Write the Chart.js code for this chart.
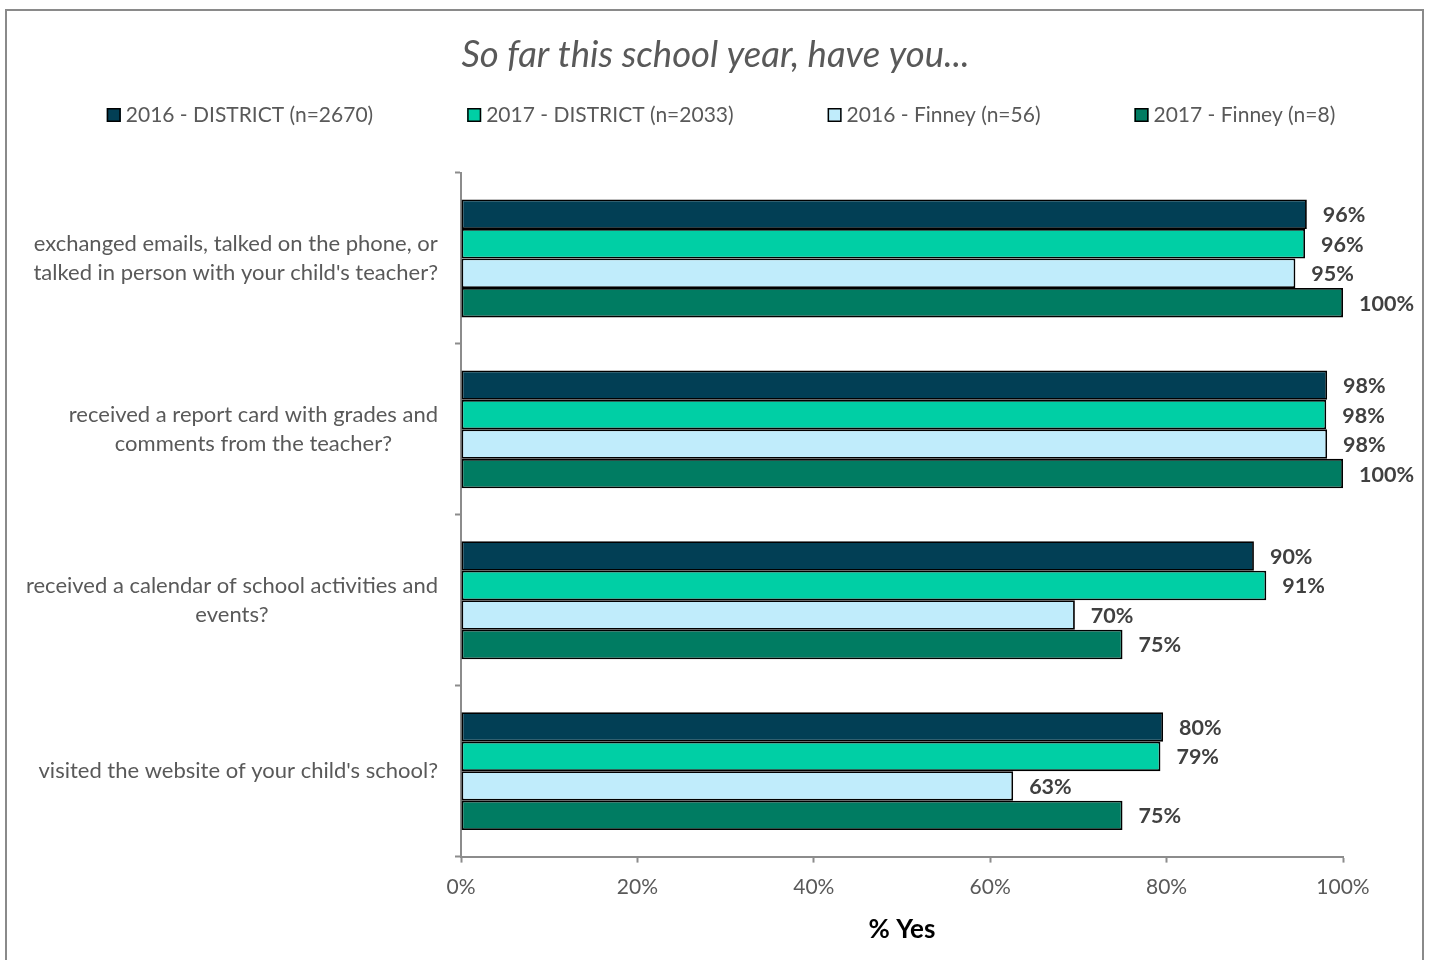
<!DOCTYPE html>
<html>
<head>
<meta charset="utf-8">
<script src="https://cdn.jsdelivr.net/npm/chart.js@4/dist/chart.umd.min.js"></script>
<style>
  html, body { margin: 0; padding: 0; background: #ffffff; }
  #wrap { position: relative; width: 1431px; height: 960px; overflow: hidden; }
  #frame { position: absolute; left: 5px; top: 9px; width: 1419px; height: 960px; border: 2px solid #8a8a8a; pointer-events: none; box-sizing: border-box; }
  canvas { position: absolute; left: 0; top: 0; }
</style>
</head>
<body>
<div id="wrap">
  <canvas id="c" width="1431" height="960"></canvas>
  <div id="frame"></div>
</div>
<script>
const chartTitle = "So far this school year, have you...";
const categories = [
  ["exchanged emails, talked on the phone, or", "talked in person with your child's teacher?"],
  ["received a report card with grades and", "comments from the teacher?"],
  ["received a calendar of school activities and", "events?"],
  "visited the website of your child's school?"
];
const seriesNames = [
  "2016 - DISTRICT (n=2670)",
  "2017 - DISTRICT (n=2033)",
  "2016 - Finney (n=56)",
  "2017 - Finney (n=8)"
];
const district2016 = [95.9, 98.2, 89.9, 79.6];
const district2017 = [95.7, 98.1, 91.3, 79.3];
const finney2016 = [94.6, 98.2, 69.6, 62.6];
const finney2017 = [100, 100, 75, 75];
const seriesColors = ["#023F55", "#00CFA5", "#C0ECFB", "#007C62"];
const xTicks = [0, 20, 40, 60, 80, 100];
const xAxisTitle = "% Yes";

const FONT = "Lato, 'Noto Sans', sans-serif";
const seriesValues = [district2016, district2017, finney2016, finney2017];

const datasets = seriesValues.map((vals, i) => ({
  label: seriesNames[i],
  data: vals,
  backgroundColor: seriesColors[i],
  borderColor: "#000000",
  borderWidth: 1.8,
  borderSkipped: false,
  categoryPercentage: 0.69,
  barPercentage: 1.0
}));

const valueLabels = {
  id: "valueLabels",
  afterDatasetsDraw(chart) {
    const ctx = chart.ctx;
    ctx.save();
    ctx.font = "bold 21.5px " + FONT;
    ctx.fillStyle = "#404040";
    ctx.textAlign = "left";
    ctx.textBaseline = "middle";
    chart.data.datasets.forEach((ds, di) => {
      const meta = chart.getDatasetMeta(di);
      meta.data.forEach((el, i) => {
        ctx.fillText(Math.round(ds.data[i]) + "%", el.x + 16, el.y + 1);
      });
    });
    ctx.restore();
  }
};

// category labels: each label block right-aligned next to the axis, its lines centred within the block
const categoryLabels = {
  id: "categoryLabels",
  afterDraw(chart) {
    const ctx = chart.ctx;
    const y = chart.scales.y;
    ctx.save();
    ctx.font = "22px " + FONT;
    ctx.fillStyle = "#595959";
    ctx.textAlign = "center";
    ctx.textBaseline = "middle";
    const lineH = 29;
    const rightEdge = y.right - 23;
    chart.data.labels.forEach((lab, i) => {
      const lines = Array.isArray(lab) ? lab : [lab];
      const w = Math.max(...lines.map(l => ctx.measureText(l).width));
      const cx = rightEdge - w / 2;
      const cy = y.getPixelForValue(i);
      lines.forEach((l, k) => {
        ctx.fillText(l, cx, cy + (k - (lines.length - 1) / 2) * lineH);
      });
    });
    ctx.restore();
  }
};

const customLegend = {
  id: "customLegend",
  afterDraw(chart) {
    const ctx = chart.ctx;
    ctx.save();
    ctx.font = "21px " + FONT;
    ctx.textBaseline = "middle";
    ctx.textAlign = "left";
    const box = 14, gapText = 5, gapItem = 94;
    const items = chart.data.datasets.map(ds => ({
      text: ds.label, color: ds.backgroundColor,
      w: box + gapText + ctx.measureText(ds.label).width
    }));
    const total = items.reduce((s, it) => s + it.w, 0) + gapItem * (items.length - 1);
    let x = 721 - total / 2;
    const cy = 115;
    items.forEach(it => {
      ctx.fillStyle = it.color;
      ctx.fillRect(x, cy - box / 2, box, box);
      ctx.strokeStyle = "#000000";
      ctx.lineWidth = 1.5;
      ctx.strokeRect(x + 0.75, cy - box / 2 + 0.75, box - 1.5, box - 1.5);
      ctx.fillStyle = "#595959";
      ctx.fillText(it.text, x + box + gapText, cy);
      x += it.w + gapItem;
    });
    ctx.restore();
  }
};

const centerTitle = {
  id: "centerTitle",
  afterLayout(chart) {
    const t = chart.titleBlock;
    if (t) { t.left = 5; t.right = 1426; t.width = t.right - t.left; }
  }
};

new Chart(document.getElementById("c"), {
  type: "bar",
  data: { labels: categories, datasets },
  plugins: [valueLabels, categoryLabels, customLegend, centerTitle],
  options: {
    indexAxis: "y",
    responsive: false,
    animation: false,
    layout: { padding: { left: 0, right: 88, top: 0, bottom: 11 } },
    plugins: {
      legend: { display: false },
      tooltip: { enabled: false },
      title: {
        display: true,
        text: chartTitle,
        color: "#595959",
        font: { family: FONT, size: 36.5, style: "italic", weight: "normal", lineHeight: 1.2 },
        padding: { top: 33, bottom: 96.2 }
      }
    },
    scales: {
      x: {
        type: "linear",
        min: 0, max: 100,
        afterBuildTicks(scale) { scale.ticks = xTicks.map(v => ({ value: v })); },
        ticks: {
          color: "#595959",
          font: { family: FONT, size: 21, lineHeight: 1.2 },
          padding: 12,
          callback: v => v + "%"
        },
        grid: { drawOnChartArea: false, drawTicks: true, tickLength: 6, color: "#8c8c8c", tickWidth: 2 },
        border: { display: true, color: "#8c8c8c", width: 2 },
        title: {
          display: true,
          text: xAxisTitle,
          color: "#000000",
          font: { family: FONT, size: 26, weight: "bold", lineHeight: 1.2 },
          padding: { top: 2, bottom: 4 }
        }
      },
      y: {
        type: "category",
        afterFit(scale) { scale.width = 461; },
        ticks: { display: false },
        grid: { drawOnChartArea: false, drawTicks: true, tickLength: 6, color: "#8c8c8c", tickWidth: 2, offset: true },
        border: { display: true, color: "#8c8c8c", width: 2 }
      }
    }
  }
});
</script>
</body>
</html>
